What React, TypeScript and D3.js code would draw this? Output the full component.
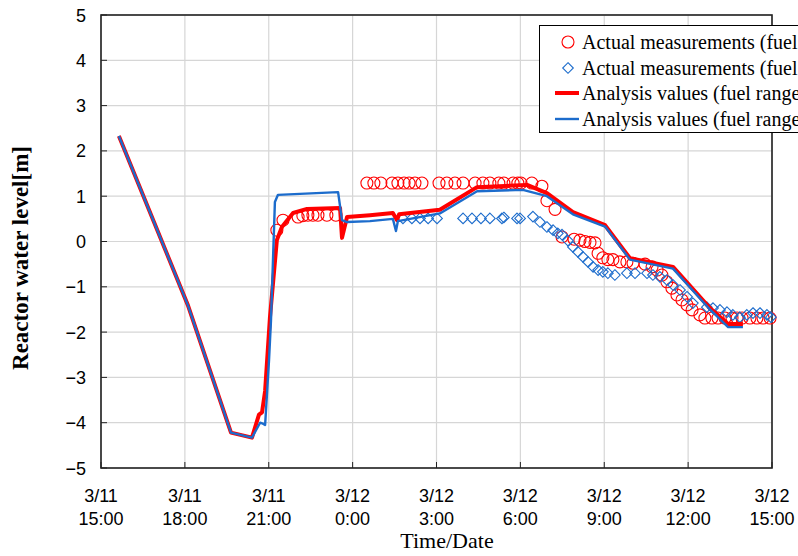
import { useEffect, useRef } from 'react'
import * as d3 from 'd3'

// time = hours after 3/11 15:00
const xTickHours = [0, 3, 6, 9, 12, 15, 18, 21, 24]
const xTickDates = ['3/11', '3/11', '3/11', '3/12', '3/12', '3/12', '3/12', '3/12', '3/12']
const xTickTimes = ['15:00', '18:00', '21:00', '0:00', '3:00', '6:00', '9:00', '12:00', '15:00']
const yTicks = [5, 4, 3, 2, 1, 0, -1, -2, -3, -4, -5]

const legendLabels = [
  'Actual measurements (fuel range A)',
  'Actual measurements (fuel range B)',
  'Analysis values (fuel range A)',
  'Analysis values (fuel range B)',
]

// analysis (fuel range A) - red line
const redLineT = [0.64, 3.11, 4.65, 5.4, 5.65, 5.76, 5.87, 6.04, 6.29, 6.47, 6.87, 7.37, 8.55, 8.62, 8.8, 9.62, 10.44, 10.59, 10.66, 12.12, 13.45, 15.24, 15.95, 16.88, 18.03, 18.92, 20.46, 21.78, 22.43, 22.96]
const redLineV = [2.33, -1.41, -4.22, -4.33, -3.82, -3.77, -3.3, -1.7, 0.03, 0.32, 0.63, 0.72, 0.74, 0.08, 0.54, 0.58, 0.63, 0.47, 0.6, 0.7, 1.2, 1.25, 1.07, 0.65, 0.36, -0.37, -0.56, -1.47, -1.82, -1.82]

// analysis (fuel range B) - blue line
const blueLineT = [0.64, 3.11, 4.65, 5.4, 5.69, 5.79, 5.87, 6.01, 6.08, 6.22, 6.33, 8.48, 8.62, 8.8, 9.62, 10.44, 10.55, 10.62, 12.12, 13.45, 15.09, 15.95, 16.88, 18.03, 18.92, 20.46, 21.78, 22.43, 22.96]
const blueLineV = [2.33, -1.41, -4.22, -4.33, -4.0, -4.02, -4.05, -2.62, -1.74, 0.87, 1.03, 1.09, 0.47, 0.43, 0.45, 0.5, 0.23, 0.45, 0.62, 1.11, 1.14, 1.0, 0.6, 0.33, -0.4, -0.6, -1.5, -1.89, -1.89]

// measurements (fuel range A) - red circles
const redDotT = [6.29, 6.51, 7.05, 7.22, 7.4, 7.58, 7.76, 8.08, 8.4, 9.51, 9.76, 10.01, 10.41, 10.62, 10.84, 11.02, 11.23, 11.48, 12.09, 12.37, 12.66, 12.95, 13.38, 13.66, 13.91, 14.23, 14.41, 14.74, 14.91, 15.02, 15.41, 15.77, 15.95, 16.24, 16.49, 16.92, 17.13, 17.31, 17.49, 17.67, 17.78, 17.95, 18.13, 18.31, 18.56, 18.81, 19.03, 19.46, 19.71, 19.89, 20.06, 20.24, 20.42, 20.6, 20.78, 20.96, 21.14, 21.42, 21.6, 21.85, 22.07, 22.32, 22.57, 22.75, 22.93, 23.21, 23.46, 23.68, 23.93]
const redDotV = [0.25, 0.47, 0.54, 0.57, 0.58, 0.58, 0.58, 0.58, 0.58, 1.29, 1.29, 1.29, 1.29, 1.29, 1.29, 1.29, 1.29, 1.29, 1.29, 1.29, 1.29, 1.29, 1.29, 1.29, 1.29, 1.29, 1.29, 1.29, 1.29, 1.29, 1.29, 1.22, 0.9, 0.71, 0.1, 0.05, 0.03, 0.0, -0.02, -0.03, -0.26, -0.36, -0.4, -0.4, -0.45, -0.45, -0.48, -0.5, -0.56, -0.63, -0.74, -0.89, -1.03, -1.18, -1.29, -1.4, -1.51, -1.62, -1.69, -1.69, -1.69, -1.69, -1.69, -1.69, -1.69, -1.69, -1.69, -1.69, -1.69]

// measurements (fuel range B) - blue diamonds
const blueDotT = [10.8, 11.12, 11.41, 11.7, 12.02, 12.95, 13.27, 13.59, 13.91, 14.34, 14.41, 14.88, 14.99, 15.45, 15.7, 15.95, 16.17, 16.34, 16.49, 16.7, 16.88, 17.06, 17.24, 17.42, 17.6, 17.78, 17.95, 18.13, 18.38, 18.81, 19.1, 19.53, 19.74, 19.99, 20.24, 20.46, 20.71, 20.96, 21.17, 21.67, 21.89, 22.14, 22.39, 22.6, 22.85, 23.1, 23.32, 23.57, 23.82, 23.96]
const blueDotV = [0.51, 0.51, 0.51, 0.51, 0.51, 0.51, 0.51, 0.51, 0.51, 0.51, 0.53, 0.51, 0.51, 0.55, 0.43, 0.32, 0.25, 0.18, 0.15, 0.02, -0.12, -0.23, -0.34, -0.45, -0.56, -0.63, -0.67, -0.7, -0.74, -0.7, -0.7, -0.7, -0.74, -0.78, -0.85, -0.96, -1.07, -1.22, -1.36, -1.45, -1.47, -1.51, -1.56, -1.62, -1.67, -1.62, -1.58, -1.58, -1.62, -1.67]

const RED = '#ff0000'
const BLUE = '#1c6ccc'

export default function App() {
  const svgRef = useRef<SVGSVGElement>(null)

  useEffect(() => {
    if (!svgRef.current) return
    const svg = d3.select(svgRef.current)
    svg.selectAll('*').remove()

    const left = 101
    const right = 772
    const top = 15
    const bottom = 468

    const x = d3.scaleLinear().domain([0, 24]).range([left, right])
    const y = d3.scaleLinear().domain([-5, 5]).range([bottom, top])

    const g = svg.append('g')

    // Gridlines
    g.selectAll('.hgrid')
      .data(yTicks)
      .enter()
      .append('line')
      .attr('x1', left)
      .attr('x2', right)
      .attr('y1', d => y(d))
      .attr('y2', d => y(d))
      .attr('stroke', '#d6d6d6')
      .attr('stroke-width', 1.2)

    g.selectAll('.vgrid')
      .data(xTickHours)
      .enter()
      .append('line')
      .attr('x1', d => x(d))
      .attr('x2', d => x(d))
      .attr('y1', top)
      .attr('y2', bottom)
      .attr('stroke', '#d6d6d6')
      .attr('stroke-width', 1.2)

    // Inner tick marks
    g.selectAll('.ytick')
      .data(yTicks)
      .enter()
      .append('line')
      .attr('x1', left)
      .attr('x2', left + 6)
      .attr('y1', d => y(d))
      .attr('y2', d => y(d))
      .attr('stroke', '#222')
      .attr('stroke-width', 1)

    g.selectAll('.xtick')
      .data(xTickHours)
      .enter()
      .append('line')
      .attr('x1', d => x(d))
      .attr('x2', d => x(d))
      .attr('y1', bottom)
      .attr('y2', bottom - 6)
      .attr('stroke', '#222')
      .attr('stroke-width', 1)

    // Frame
    g.append('rect')
      .attr('x', left)
      .attr('y', top)
      .attr('width', right - left)
      .attr('height', bottom - top)
      .attr('fill', 'none')
      .attr('stroke', '#222')
      .attr('stroke-width', 1.6)

    // Y tick labels
    g.selectAll('.ylab')
      .data(yTicks)
      .enter()
      .append('text')
      .attr('x', 86)
      .attr('y', d => y(d) + 6.5)
      .attr('text-anchor', 'end')
      .attr('font-family', '"Liberation Sans", Arial, sans-serif')
      .attr('font-size', 18)
      .attr('fill', '#000')
      .text(d => (d < 0 ? '\u2212' + Math.abs(d) : String(d)))

    // X tick labels (two lines)
    const xl = g
      .selectAll('.xlab')
      .data(xTickHours)
      .enter()
      .append('text')
      .attr('text-anchor', 'middle')
      .attr('font-family', '"Liberation Sans", Arial, sans-serif')
      .attr('font-size', 18)
      .attr('fill', '#000')
    xl.append('tspan')
      .attr('x', d => x(d))
      .attr('y', 502)
      .text((_, i) => xTickDates[i])
    xl.append('tspan')
      .attr('x', d => x(d))
      .attr('y', 525)
      .text((_, i) => xTickTimes[i])

    // Axis titles
    g.append('text')
      .attr('x', 447)
      .attr('y', 548)
      .attr('text-anchor', 'middle')
      .attr('font-family', '"Liberation Serif", "Times New Roman", serif')
      .attr('font-size', 22)
      .text('Time/Date')

    g.append('text')
      .attr('transform', 'translate(28,258) rotate(-90)')
      .attr('text-anchor', 'middle')
      .attr('font-family', '"Liberation Serif", "Times New Roman", serif')
      .attr('font-weight', 'bold')
      .attr('font-size', 23)
      .text('Reactor water level[m]')

    const path = d3
      .line<[number, number]>()
      .x(d => x(d[0]))
      .y(d => y(d[1]))

    const redPts = redLineT.map((t, i) => [t, redLineV[i]] as [number, number])
    const bluePts = blueLineT.map((t, i) => [t, blueLineV[i]] as [number, number])
    const redDots = redDotT.map((t, i) => [t, redDotV[i]] as [number, number])
    const blueDots = blueDotT.map((t, i) => [t, blueDotV[i]] as [number, number])

    // Markers
    g.selectAll('.rdot')
      .data(redDots)
      .enter()
      .append('circle')
      .attr('cx', d => x(d[0]))
      .attr('cy', d => y(d[1]))
      .attr('r', 6)
      .attr('fill', 'none')
      .attr('stroke', RED)
      .attr('stroke-width', 1.1)

    const diamond = d3.symbol().type(d3.symbolDiamond2).size(72)
    g.selectAll('.bdot')
      .data(blueDots)
      .enter()
      .append('path')
      .attr('d', diamond)
      .attr('transform', d => `translate(${x(d[0])},${y(d[1])})`)
      .attr('fill', 'none')
      .attr('stroke', BLUE)
      .attr('stroke-width', 1.1)

    // Analysis lines
    g.append('path')
      .datum(redPts)
      .attr('d', path)
      .attr('fill', 'none')
      .attr('stroke', RED)
      .attr('stroke-width', 4)
      .attr('stroke-linejoin', 'round')

    g.append('path')
      .datum(bluePts)
      .attr('d', path)
      .attr('fill', 'none')
      .attr('stroke', BLUE)
      .attr('stroke-width', 2.4)
      .attr('stroke-linejoin', 'round')

    // Legend (runs past the right edge, as in the original)
    const lg = svg.append('g')
    lg.append('rect')
      .attr('x', 539.5)
      .attr('y', 25.5)
      .attr('width', 300)
      .attr('height', 107)
      .attr('fill', '#fff')
      .attr('stroke', '#000')
      .attr('stroke-width', 1)

    const rowY = [42, 68, 93, 119]
    lg.append('circle')
      .attr('cx', 568)
      .attr('cy', rowY[0])
      .attr('r', 6)
      .attr('fill', 'none')
      .attr('stroke', RED)
      .attr('stroke-width', 1.1)
    lg.append('path')
      .attr('d', diamond)
      .attr('transform', `translate(568,${rowY[1]})`)
      .attr('fill', 'none')
      .attr('stroke', BLUE)
      .attr('stroke-width', 1.1)
    lg.append('line')
      .attr('x1', 555)
      .attr('x2', 579)
      .attr('y1', rowY[2])
      .attr('y2', rowY[2])
      .attr('stroke', RED)
      .attr('stroke-width', 4)
    lg.append('line')
      .attr('x1', 555)
      .attr('x2', 579)
      .attr('y1', rowY[3])
      .attr('y2', rowY[3])
      .attr('stroke', BLUE)
      .attr('stroke-width', 2.4)

    lg.selectAll('.ltext')
      .data(legendLabels)
      .enter()
      .append('text')
      .attr('x', 582)
      .attr('y', (_, i) => rowY[i] + 7)
      .attr('font-family', '"Liberation Serif", "Times New Roman", serif')
      .attr('font-size', 20)
      .attr('fill', '#000')
      .text(d => d)
  }, [])

  return (
    <svg
      ref={svgRef}
      width={798}
      height={556}
      style={{ position: 'absolute', left: 0, top: 0, background: '#fff' }}
    />
  )
}
